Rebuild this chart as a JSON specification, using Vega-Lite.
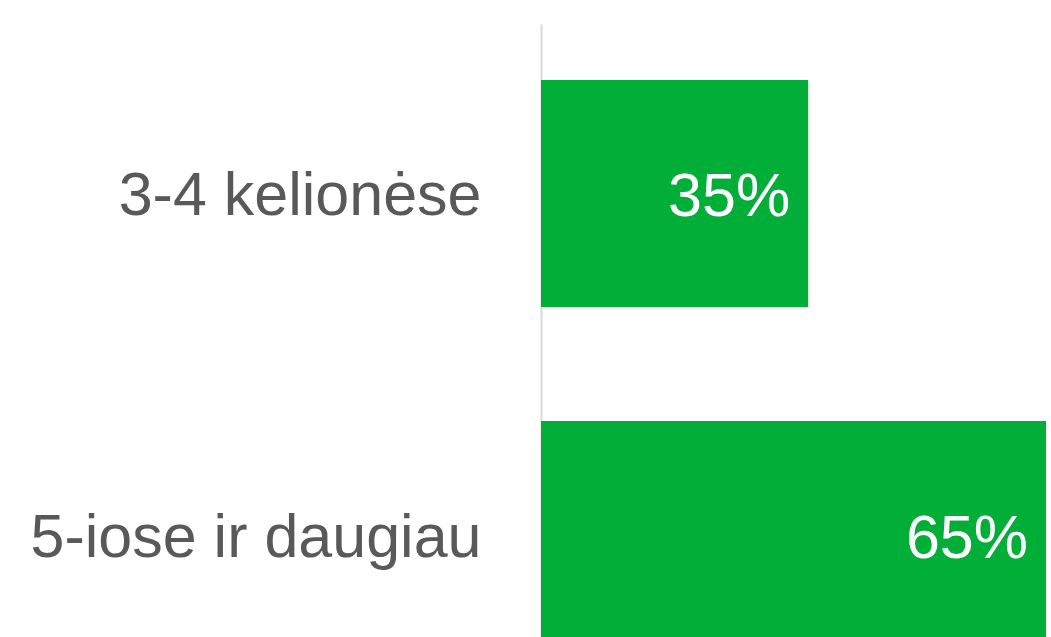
{
  "$schema": "https://vega.github.io/schema/vega-lite/v6.json",
  "autosize": "none",
  "padding": {"left": 541, "top": 24, "right": 5, "bottom": 0},
  "width": 505,
  "height": 680,
  "background": "white",
  "config": {"view": {"stroke": null}, "font": "Liberation Sans"},
  "data": {"values": [
    {"category": "3-4 kelionėse", "value": 34.6, "label": "35%"},
    {"category": "5-iose ir daugiau", "value": 65.4, "label": "65%"}
  ]},
  "encoding": {
    "y": {"field": "category", "type": "nominal", "sort": null,
      "scale": {"paddingInner": 0.334, "paddingOuter": 0.164},
      "axis": {"title": null, "ticks": false, "labelPadding": 60, "labelOffset": 4, "labelFontSize": 61, "labelColor": "#595959", "labelFont": "Liberation Sans", "domainColor": "#d9d9d9", "domainWidth": 2, "labelLimit": 600}},
    "x": {"field": "value", "type": "quantitative", "scale": {"domain": [0, 65.4], "nice": false}, "axis": null}
  },
  "layer": [
    {"mark": {"type": "bar", "color": "#00AE38"}},
    {"mark": {"type": "text", "align": "right", "baseline": "middle", "dx": -18, "dy": 5, "fontSize": 61, "color": "white", "font": "Liberation Sans"},
     "encoding": {"text": {"field": "label"}}}
  ]
}
